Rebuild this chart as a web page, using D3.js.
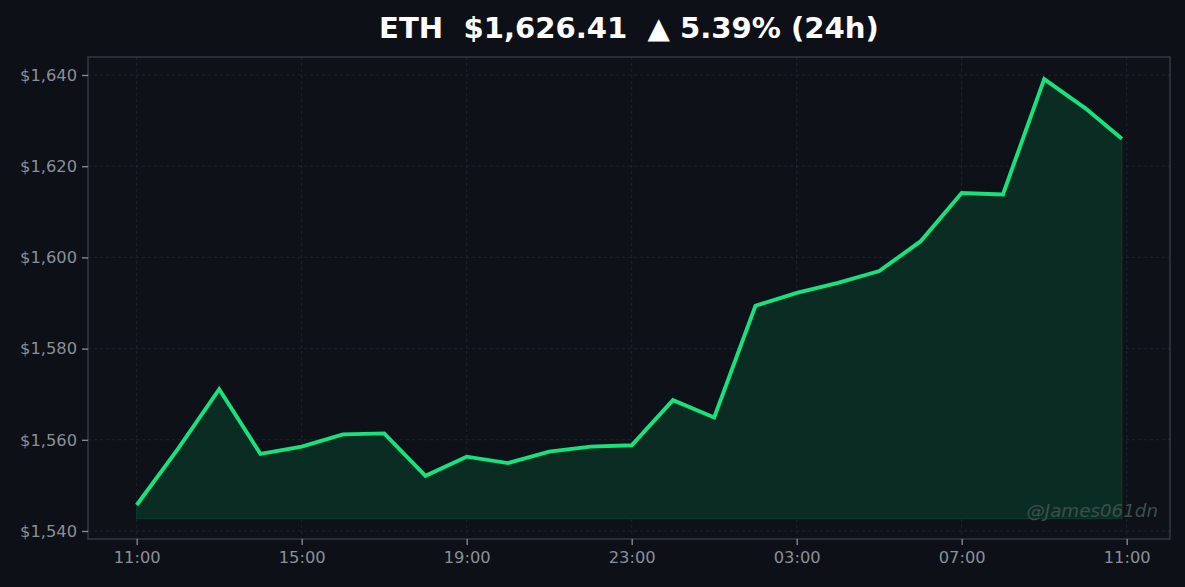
<!DOCTYPE html>
<html><head><meta charset="utf-8">
<script src="https://cdn.jsdelivr.net/npm/d3@7"></script>
<style>
html,body{margin:0;padding:0;background:#0d1017;}
svg{display:block;}
</style></head>
<body>
<script>
const times = ["2023-01-01T11:00","2023-01-01T12:00","2023-01-01T13:00","2023-01-01T14:00","2023-01-01T15:00",
"2023-01-01T16:00","2023-01-01T17:00","2023-01-01T18:00","2023-01-01T19:00","2023-01-01T20:00",
"2023-01-01T21:00","2023-01-01T22:00","2023-01-01T23:00","2023-01-02T00:00","2023-01-02T01:00",
"2023-01-02T02:00","2023-01-02T03:00","2023-01-02T04:00","2023-01-02T05:00","2023-01-02T06:00",
"2023-01-02T07:00","2023-01-02T08:00","2023-01-02T09:00","2023-01-02T10:00","2023-01-02T10:53"];
const prices = [1545.7,1558.0,1571.1,1556.9,1558.5,1561.2,1561.4,1552.1,1556.3,1554.9,
1557.4,1558.5,1558.8,1568.7,1564.9,1589.4,1592.2,1594.4,1597.0,1603.5,
1614.1,1613.8,1639.1,1632.7,1626.0];
const fillBase = 1542.7;
const yTicks = [1540,1560,1580,1600,1620,1640];
const xTickTimes = ["2023-01-01T11:00","2023-01-01T15:00","2023-01-01T19:00","2023-01-01T23:00","2023-01-02T03:00","2023-01-02T07:00","2023-01-02T11:00"];
const titleText = "ETH  $1,626.41  \u25B2 5.39% (24h)";
const watermark = "@James061dn";

(function(){
const W = 1185, H = 587;
const parse = d3.timeParse("%Y-%m-%dT%H:%M");
const data = times.map((t,i)=>({t:parse(t), v:prices[i]}));
const pl = 88, pr = 1170, pt = 57, pb = 539;

const x = d3.scaleTime()
  .domain([parse("2023-01-01T11:00"), parse("2023-01-02T11:00")])
  .range([136.7, 1126.7]);
const y = d3.scaleLinear().domain([1540,1640]).range([531,75]);

const svg = d3.select("body").append("svg").attr("width",W).attr("height",H)
  .style("font-family","'DejaVu Sans', sans-serif");
svg.append("rect").attr("width",W).attr("height",H).attr("fill","#0d1017");
svg.append("rect").attr("x",pl).attr("y",pt).attr("width",pr-pl).attr("height",pb-pt).attr("fill","#0e1118");

// grid
const g = svg.append("g");
g.selectAll(".gy").data(yTicks).join("line")
  .attr("x1",pl).attr("x2",pr).attr("y1",d=>y(d)).attr("y2",d=>y(d))
  .attr("stroke","#252a33").attr("stroke-width",0.8).attr("stroke-dasharray","3,3");
g.selectAll(".gx").data(xTickTimes).join("line")
  .attr("y1",pt).attr("y2",pb).attr("x1",d=>x(parse(d))).attr("x2",d=>x(parse(d)))
  .attr("stroke","#252a33").attr("stroke-width",0.8).attr("stroke-dasharray","3,3");

// area
const area = d3.area().x(d=>x(d.t)).y0(y(fillBase)).y1(d=>y(d.v));
svg.append("path").datum(data).attr("d",area).attr("fill","#0b2c23").attr("stroke","#0f3d2e").attr("stroke-width",1);
const line = d3.line().x(d=>x(d.t)).y(d=>y(d.v));
svg.append("path").datum(data).attr("d",line).attr("fill","none").attr("stroke","#17e27c")
  .attr("stroke-width",3.9).attr("stroke-linejoin","miter").attr("stroke-linecap","butt");

// frame
svg.append("rect").attr("x",pl).attr("y",pt).attr("width",pr-pl).attr("height",pb-pt)
  .attr("fill","none").attr("stroke","#3a3e47").attr("stroke-width",1.3);

// axes
const fmtY = v => "$" + d3.format(",")(v);
const yAxis = d3.axisLeft(y).tickValues(yTicks).tickFormat(fmtY).tickSize(6).tickPadding(5);
const ya = svg.append("g").attr("transform",`translate(${pl},0)`).call(yAxis);
const xAxis = d3.axisBottom(x).tickValues(xTickTimes.map(parse)).tickFormat(d3.timeFormat("%H:%M")).tickSize(6).tickPadding(6);
const xa = svg.append("g").attr("transform",`translate(0,${pb})`).call(xAxis);
[ya,xa].forEach(a=>{
  a.select(".domain").remove();
  a.selectAll(".tick line").attr("stroke","#8a8f98").attr("stroke-width",1.3);
  a.selectAll(".tick text").attr("fill","#8a8f98").style("font-size","16.3px").style("font-family","'DejaVu Sans', sans-serif");
});

// title
svg.append("text").attr("x",(pl+pr)/2).attr("y",38).attr("text-anchor","middle")
  .attr("fill","#ffffff").style("font-weight","bold").style("font-size","29.1px")
  .attr("xml:space","preserve").style("white-space","pre").text(titleText);

// watermark
svg.append("text").attr("x",1158).attr("y",517).attr("text-anchor","end")
  .attr("fill","#3b504a").style("font-style","italic").style("font-size","18.3px").text(watermark);
})();
</script>
</body></html>
